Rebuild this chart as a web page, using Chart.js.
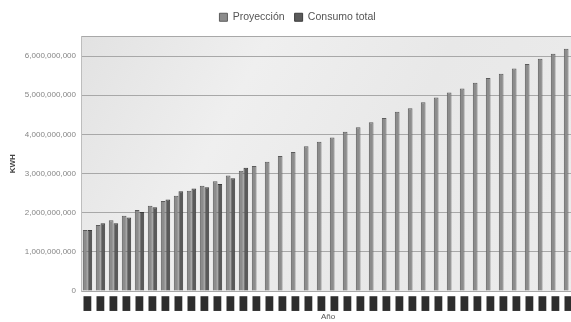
<!DOCTYPE html>
<html><head><meta charset="utf-8">
<script src="https://cdn.jsdelivr.net/npm/chart.js@4.4.0/dist/chart.umd.min.js"></script>
<style>
html,body{margin:0;padding:0;overflow:hidden;background:#fff;width:571px;height:322px}
#wrap{width:595px;height:322px;position:relative}
</style></head>
<body><div id="wrap"><canvas id="c" width="595" height="322"></canvas></div>
<script>
// Year labels are redacted (black boxes) in the reference
const categories = ['█','█','█','█','█','█','█','█','█','█','█','█','█','█','█','█','█','█','█',
                    '█','█','█','█','█','█','█','█','█','█','█','█','█','█','█','█','█','█','█'];
const proyeccion = [1560000000,1685000000,1810000000,1920000000,2070000000,2180000000,2300000000,
  2430000000,2560000000,2690000000,2800000000,2950000000,3070000000,3190000000,3300000000,
  3450000000,3550000000,3700000000,3810000000,3920000000,4070000000,4180000000,4310000000,
  4420000000,4580000000,4670000000,4820000000,4940000000,5070000000,5170000000,5320000000,
  5440000000,5550000000,5680000000,5800000000,5930000000,6060000000,6190000000];
const consumoTotal = [1560000000,1728000000,1730000000,1880000000,2020000000,2140000000,2340000000,
  2550000000,2620000000,2650000000,2730000000,2880000000,3150000000,
  null,null,null,null,null,null,null,null,null,null,null,null,null,null,null,null,null,null,null,
  null,null,null,null,null];
const seriesNames = ['Proyección','Consumo total'];
const yTicks = [0,1000000000,2000000000,3000000000,4000000000,5000000000,6000000000];
const yMax = 6500000000;

const plotBg = {
  id:'plotBg',
  beforeLayout(chart){
    const lg = chart.legend;
    if (lg && !lg._patched) {
      const f = lg.fit.bind(lg);
      lg.fit = function(){ f(); this.height += 4; };
      lg._patched = true;
    }
  },
  afterLayout(chart){
    if (chart.legend) { chart.legend.left += 10; chart.legend.right += 10; }
  },
  beforeDraw(chart){
    const {ctx, chartArea:a} = chart;
    const g = ctx.createLinearGradient(a.left, a.top, a.right, a.bottom);
    g.addColorStop(0,'#e2e2e2');
    g.addColorStop(0.3,'#efefef');
    g.addColorStop(0.6,'#e8e8e8');
    g.addColorStop(1,'#ececec');
    ctx.save();
    ctx.fillStyle = g;
    ctx.fillRect(a.left, a.top, a.right-a.left, a.bottom-a.top);
    ctx.restore();
  }
};

new Chart(document.getElementById('c'), {
  type:'bar',
  data:{
    labels: categories,
    datasets:[
      {label:seriesNames[0], data:proyeccion, backgroundColor:'#8c8c8c', borderColor:'#5c5c5c', borderWidth:1,
       categoryPercentage:0.72, barPercentage:1.0},
      {label:seriesNames[1], data:consumoTotal, backgroundColor:'#5a5a5a', borderColor:'#3c3c3c', borderWidth:1,
       categoryPercentage:0.72, barPercentage:1.0}
    ]
  },
  options:{
    responsive:false,
    animation:false,
    devicePixelRatio:1,
    layout:{padding:{top:2,right:20,left:0,bottom:0}},
    plugins:{
      legend:{
        position:'top',
        labels:{boxWidth:8, boxHeight:8, padding:10, color:'#555',
          font:{family:'Liberation Sans', size:10.5}},
      },
      tooltip:{enabled:false}
    },
    scales:{
      x:{
        grid:{display:false, drawTicks:false},
        border:{display:false},
        ticks:{autoSkip:false, maxRotation:0, minRotation:0, padding:5, color:'#2e2e2e',
          font:{family:'Liberation Mono', size:13}},
        title:{display:true, text:'Año', color:'#555', padding:{top:0,bottom:0},
          font:{family:'Liberation Sans', size:8}},
        afterFit(s){ s.height = 31; }
      },
      y:{
        min:0, max:yMax,
        afterBuildTicks(s){ s.ticks = yTicks.map(v=>({value:v})).concat([{value:yMax}]); },
        grid:{color:'#a8a8a8', drawTicks:false, lineWidth:1},
        border:{display:true, color:'#bdbdbd'},
        ticks:{padding:5, color:'#858585', font:{family:'Liberation Sans', size:8},
          callback:(v)=> yTicks.includes(v) ? v.toLocaleString('en-US') : ''},
        title:{display:true, text:'KWH', color:'#444', padding:{top:8,bottom:0},
          font:{family:'Liberation Sans', size:8, weight:'bold'}},
        afterFit(s){ s.width = 81; }
      }
    }
  },
  plugins:[plotBg]
});
</script></body></html>
